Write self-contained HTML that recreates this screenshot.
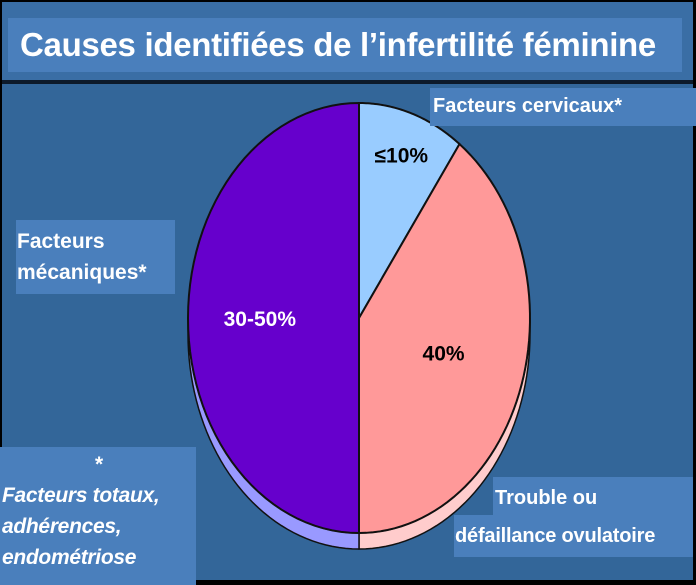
<!DOCTYPE html>
<html><head><meta charset="utf-8"><style>
body{margin:0;width:696px;height:585px;overflow:hidden;background:#000;font-family:"Liberation Sans",sans-serif}
.bx{position:absolute;background:#4a7fbc;color:#fff;font-weight:bold}
</style></head><body>
<div style="position:absolute;left:2px;top:2px;width:691px;height:578px;background:#336699">
<div style="position:absolute;left:0;top:0;width:691px;height:78px;background:#3a6ea5"></div>
<div style="position:absolute;left:0;top:78px;width:691px;height:4px;background:#0d1a2a"></div>
</div>
<div class="bx" style="left:8px;top:18px;width:674px;height:54px;font-size:33px;line-height:54px;padding-left:12px;box-sizing:border-box;letter-spacing:-0.3px">Causes identifiées de l’infertilité féminine</div>
<svg width="696" height="585" style="position:absolute;left:0;top:0">
<g id="pie"></g>
</svg>
<div class="bx" style="left:430px;top:88px;width:266px;height:38px;font-size:20px;line-height:36px;padding-left:3px">Facteurs cervicaux*</div>
<div class="bx" style="left:16px;top:220px;width:159px;height:74px;font-size:21px;line-height:31px;padding:6px 0 0 1px;box-sizing:border-box">Facteurs<br>mécaniques*</div>
<div class="bx" style="left:0;top:447px;width:196px;height:138px;font-size:21px;font-style:italic;line-height:31px;padding-top:2px;box-sizing:border-box;letter-spacing:-0.3px"><div style="text-align:center">*</div><div style="padding-left:2px">Facteurs totaux,<br>adhérences,<br>endométriose</div></div>
<div class="bx" style="left:493px;top:477px;width:200px;height:40px;font-size:20px;line-height:42px;padding-left:2px;box-sizing:border-box">Trouble ou</div>
<div class="bx" style="left:454px;top:515px;width:239px;height:42px;font-size:20px;line-height:42px;padding-left:1px;box-sizing:border-box;letter-spacing:-0.2px">défaillance ovulatoire</div>
<script>
const categories=["Facteurs cervicaux","Trouble ovulatoire","Facteurs mécaniques"];
const values=[10,40,50];
const valueLabels=["≤10%","40%","30-50%"];
const colors=["#99ccff","#ff9999","#6600cc"];
const shadows=["#aaccff","#ffcccc","#9999ff"];
const textColors=["#000","#000","#fff"];
const cx=359,cy=318,rx=171,ry=215,depth=16;
const g=document.getElementById('pie');const NS="http://www.w3.org/2000/svg";
const total=values.reduce((a,b)=>a+b,0);
function pt(a,dy){return [cx+rx*Math.sin(a),cy-ry*Math.cos(a)+(dy||0)];}
let a0=0;const ang=[];
values.forEach(v=>{const a1=a0+v/total*2*Math.PI;ang.push([a0,a1]);a0=a1;});
ang.forEach((r,i)=>{const s=Math.max(r[0],Math.PI/2),e=Math.min(r[1],3*Math.PI/2);if(e<=s)return;
const p=document.createElementNS(NS,'path');let d='';const N=40;
for(let k=0;k<=N;k++){const q=pt(s+(e-s)*k/N,depth);d+=(k?'L':'M')+q[0]+' '+q[1];}
for(let k=N;k>=0;k--){const q=pt(s+(e-s)*k/N,0);d+='L'+q[0]+' '+q[1];}
p.setAttribute('d',d+'Z');p.setAttribute('fill',shadows[i]);p.setAttribute('stroke','#111');p.setAttribute('stroke-width','1.5');


g.appendChild(p);});
ang.forEach((r,i)=>{const p=document.createElementNS(NS,'path');let d='M'+cx+' '+cy;const N=60;
for(let k=0;k<=N;k++){const q=pt(r[0]+(r[1]-r[0])*k/N);d+='L'+q[0]+' '+q[1];}
p.setAttribute('d',d+'Z');p.setAttribute('fill',colors[i]);p.setAttribute('stroke','#111');p.setAttribute('stroke-width','2');


g.appendChild(p);});
const fr=[0.8,0.52,0.58];
ang.forEach((r,i)=>{const m=(r[0]+r[1])/2;const f=fr[i];
const x=cx+rx*f*Math.sin(m),y=cy-ry*f*Math.cos(m)+8;
const t=document.createElementNS(NS,'text');t.setAttribute('x',x);t.setAttribute('y',y);t.setAttribute('text-anchor','middle');
t.setAttribute('font-size','21');t.setAttribute('font-weight','bold');t.setAttribute('fill',textColors[i]);t.setAttribute('font-family','Liberation Sans, sans-serif');
t.textContent=valueLabels[i];


g.appendChild(t);});
</script>
</body></html>
